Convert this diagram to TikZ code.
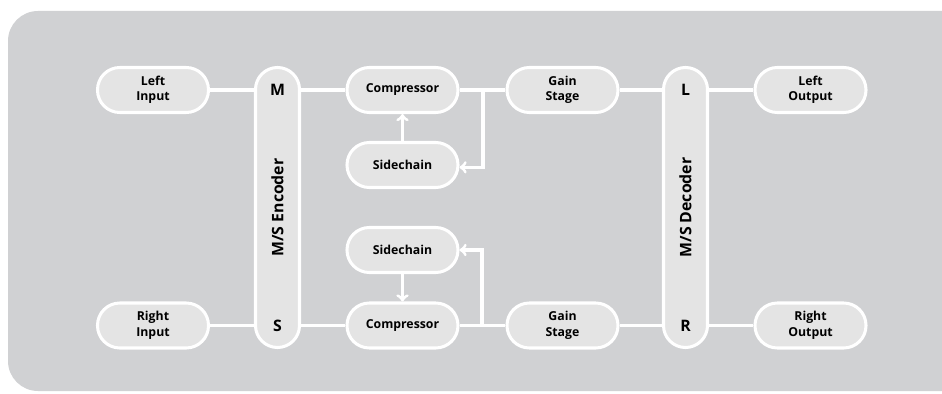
\documentclass[tikz,border=0pt]{standalone}
\usepackage{fontspec}
\setmainfont{Open Sans}
\usetikzlibrary{arrows}
\definecolor{panel}{HTML}{D0D1D3}
\definecolor{boxfill}{HTML}{E4E4E4}
\tikzset{
  stage/.style={draw=white, line width=2.6pt, fill=boxfill, rounded corners=0.67cm,
    minimum width=3.33cm, minimum height=1.35cm, inner sep=0pt, align=center,
    font=\bfseries\fontsize{10.5}{13.2}\selectfont},
  coder/.style={draw=white, line width=2.6pt, fill=boxfill, rounded corners=0.66cm,
    minimum width=1.32cm, minimum height=8.4cm, inner sep=0pt},
  letter/.style={font=\bfseries\fontsize{13.5}{15}\selectfont},
  wire/.style={draw=white, line width=2.6pt},
}

\begin{document}
\begin{tikzpicture}[x=0.03cm, y=-0.03cm]
            \useasboundingbox (0, 0) rectangle (942, 394);
            \clip (0, 0) rectangle (942, 394);
            \fill[panel, rounded corners=0.9cm] (8, 11) rectangle (1000, 391);

            % inputs and encoder
            \node[stage] (lin) at (153, 90) {Left\\Input};
            \node[stage] (rin) at (153, 325.5) {Right\\Input};
            \node[coder] (enc) at (277.5, 207.5) {};
            \node[letter] (m) at (277.5, 90) {M};
            \node[letter] (s) at (277.5, 325.5) {S};
            \node[letter, rotate=90] (enctxt) at (enc.center) {M/S Encoder};

            % mid channel
            \node[stage] (comp1) at (402.5, 90) {Compressor};
            \node[stage] (side1) at (402.5, 165) {Sidechain};
            \node[stage] (gain1) at (562.5, 90) {Gain\\Stage};

            % side channel
            \node[stage] (side2) at (402.5, 250) {Sidechain};
            \node[stage] (comp2) at (402.5, 325.5) {Compressor};
            \node[stage] (gain2) at (562.5, 325.5) {Gain\\Stage};

            % decoder and outputs
            \node[coder] (dec) at (685.5, 207.5) {};
            \node[letter] (l) at (685.5, 90) {L};
            \node[letter] (r) at (685.5, 325.5) {R};
            \node[letter, rotate=90] (dectxt) at (dec.center) {M/S Decoder};
            \node[stage] (lout) at (810.5, 90) {Left\\Output};
            \node[stage] (rout) at (810.5, 325.5) {Right\\Output};

            \coordinate (br1) at (483, 90);
            \coordinate (br2) at (482, 325.5);

            \draw[wire] (lin.east) -- (lin.east -| enc.west);
            \draw[wire] (rin.east) -- (rin.east -| enc.west);
            \draw[wire] (comp1.west -| enc.east) -- (comp1.west);
            \draw[wire] (comp2.west -| enc.east) -- (comp2.west);
            \draw[wire] (comp1.east) -- (gain1.west);
            \draw[wire] (comp2.east) -- (gain2.west);
            \draw[wire] (gain1.east) -- (gain1.east -| dec.west);
            \draw[wire] (gain2.east) -- (gain2.east -| dec.west);
            \draw[wire] (lout.west -| dec.east) -- (lout.west);
            \draw[wire] (rout.west -| dec.east) -- (rout.west);
            \draw[wire, ->] (side1.north) -- (comp1.south);
            \draw[wire, ->] (side2.south) -- (comp2.north);
            \draw[wire, ->] (br1) |- ([yshift=-2] side1.east);
            \draw[wire, ->] (br2) |- (side2.east);
        \end{tikzpicture}
\end{document}
